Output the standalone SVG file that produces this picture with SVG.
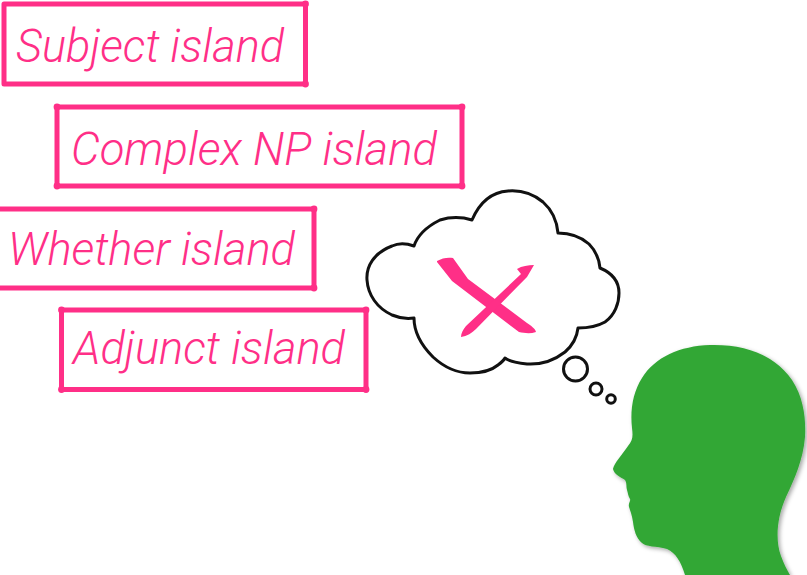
<svg xmlns="http://www.w3.org/2000/svg" width="807" height="575" viewBox="0 0 807 575">
  <style>
    .box { fill: #ffffff; stroke: #ff2f87; stroke-width: 5; stroke-linejoin: round; }
    .corner { fill: #ff2f87; }
    .label { font-family: "Roboto", "Liberation Sans", sans-serif; font-style: italic; font-weight: 300; font-size: 46px; fill: #ff2f87; }
    .cloud { fill: #ffffff; stroke: #111111; stroke-width: 3; stroke-linejoin: round; }
    .cross { fill: #ff2f87; }
    .head { fill: #33a736; }
  </style>
  <defs>
    <filter id="headShadow" x="-10%" y="-10%" width="130%" height="130%">
      <feDropShadow dx="2" dy="2" stdDeviation="2" flood-color="#000000" flood-opacity="0.35"/>
    </filter>
  </defs>

  <rect width="807" height="575" fill="#ffffff"/>

  <!-- island labels -->
  <g id="subject-island">
    <rect class="box" x="4" y="4" width="301.5" height="80"/>
    <circle class="corner" cx="305.5" cy="4" r="3.4"/>
    <circle class="corner" cx="305.5" cy="84" r="3.4"/>
    <text class="label" x="16" y="62" textLength="268" lengthAdjust="spacingAndGlyphs">Subject island</text>
  </g>

  <g id="complex-np-island">
    <rect class="box" x="57" y="107" width="405" height="79"/>
    <circle class="corner" cx="57" cy="107" r="3.4"/>
    <circle class="corner" cx="462" cy="107" r="3.4"/>
    <circle class="corner" cx="57" cy="186" r="3.4"/>
    <circle class="corner" cx="462" cy="186" r="3.4"/>
    <text class="label" x="71" y="165" textLength="366" lengthAdjust="spacingAndGlyphs">Complex NP island</text>
  </g>

  <g id="whether-island">
    <rect class="box" x="-10" y="209" width="324" height="79"/>
    <circle class="corner" cx="314" cy="209" r="3.4"/>
    <circle class="corner" cx="314" cy="288" r="3.4"/>
    <text class="label" x="8" y="265" textLength="287" lengthAdjust="spacingAndGlyphs">Whether island</text>
  </g>

  <g id="adjunct-island">
    <rect class="box" x="61.5" y="310" width="304.5" height="79.5"/>
    <circle class="corner" cx="61.5" cy="310" r="3.4"/>
    <circle class="corner" cx="366" cy="310" r="3.4"/>
    <circle class="corner" cx="61.5" cy="389.5" r="3.4"/>
    <circle class="corner" cx="366" cy="389.5" r="3.4"/>
    <text class="label" x="73" y="364" textLength="272" lengthAdjust="spacingAndGlyphs">Adjunct island</text>
  </g>

  <!-- thought bubble with a cross -->
  <g id="thought-cloud">
    <path class="cloud" d="M414,246
      C406,243 398,243 392,246
      C374,253 366,266 367,280
      C368,295 377,308 392,315
      C399,318 407,319 414,318
      C414,331 421,345 433,357
      C445,368 458,373 470,373
      C481,373 492,370 498,365
      C502,362 504,360 505,358
      C510,362 518,363 527,364
      C544,365 556,359 565,352
      C573,345 577,337 578,328
      C590,328 598,326 605,322
      C615,315 619,303 619,293
      C619,281 612,273 600,268
      C599,258 595,250 589,244
      C580,236 569,233 558,233
      C557,222 552,210 543,202
      C532,193 520,190 508,191
      C494,192 481,199 472,220
      C462,217 450,217 440,220
      C428,226 418,234 414,246 Z"/>
    <circle class="cloud" cx="575.5" cy="369" r="12"/>
    <circle class="cloud" cx="596" cy="389" r="6"/>
    <circle class="cloud" cx="611" cy="399" r="4.3"/>
    <path class="cross" d="M437,261 C442,258 448,257 453,258 L468,279 L527,323 C531,326 535,328 536,332 C530,334 524,333 519,332 L452,281 L437,262 Z"/>
    <path class="cross" d="M517,269 C522,266 528,265 534,265 L527,277 L476,329 C472,333 467,336 461,337 C461,333 463,330 466,326 L521,274 Z"/>
  </g>

  <!-- head silhouette -->
  <g id="head">
    <path class="head" filter="url(#headShadow)" d="M685,575
      C681,562 676,553 667,549
      C656,546 646,547 642,543
      C636,538 634,530 633,522
      C632,515 630,510 629,507
      C628,503 631,501 630,499
      C628,496 628,493 627,490
      C626,486 627,483 625,480
      C620,477 614,474 613,469
      C614,463 622,455 628,446
      C633,440 633,436 632,428
      C630,410 633,392 642,378
      C655,357 680,346 710,345
      C745,344 775,355 792,380
      C804,398 806,420 805,437
      C803,460 795,478 786,497
      C777,517 775,540 781,556
      C784,564 787,570 790,575 Z"/>
  </g>
</svg>
